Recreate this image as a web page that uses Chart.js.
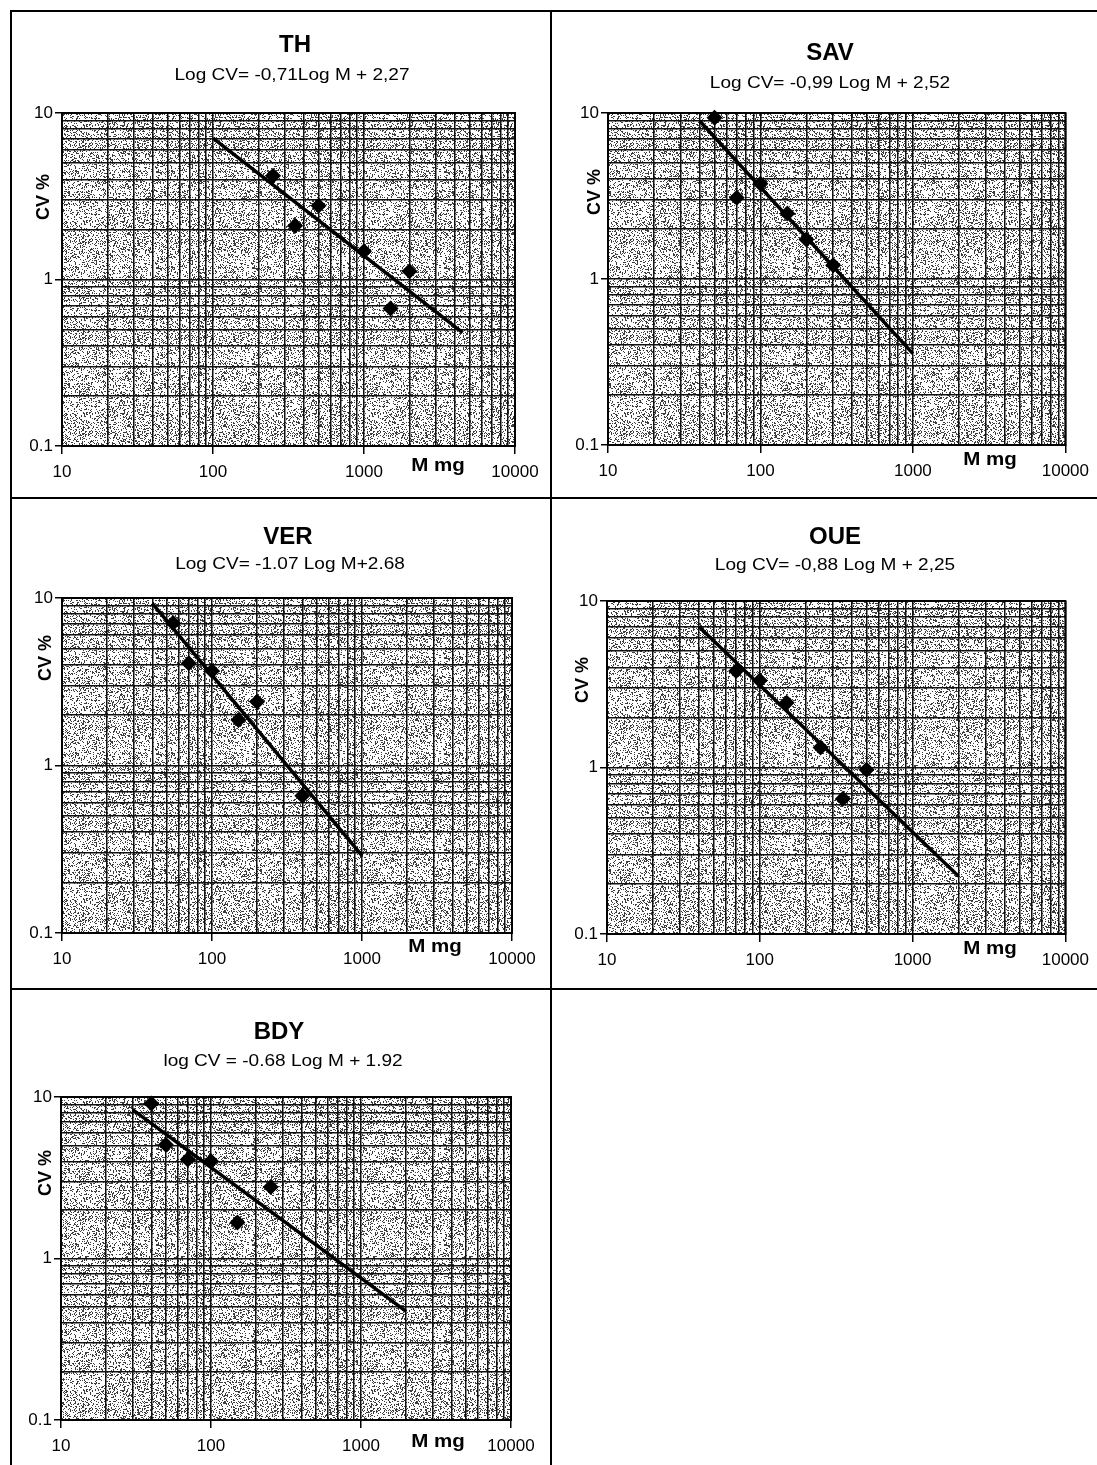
<!DOCTYPE html>
<html>
<head>
<meta charset="utf-8">
<title>Log CV vs Log M</title>
<script src="https://cdn.jsdelivr.net/npm/chart.js@4.4.1/dist/chart.umd.min.js"></script>
<style>
    html, body { margin: 0; padding: 0; background: #fff; }
    body { width: 1097px; height: 1465px; position: relative; overflow: hidden; }
    .rule { position: absolute; background: #000; }
    .cell { position: absolute; }
    .cell canvas { display: block; }
</style>
</head>
<body>
<div class="rule" style="left:10px;top:10px;width:1087px;height:2px"></div>
<div class="rule" style="left:10px;top:10px;width:2px;height:1455px"></div>
<div class="rule" style="left:550px;top:10px;width:2px;height:1455px"></div>
<div class="rule" style="left:10px;top:497px;width:1087px;height:2px"></div>
<div class="rule" style="left:10px;top:988px;width:1087px;height:2px"></div>

<div class="cell" style="left:12px;top:13px;width:538px;height:483px"><canvas id="cTH"></canvas></div>
<div class="cell" style="left:553px;top:13px;width:544px;height:483px"><canvas id="cSAV"></canvas></div>
<div class="cell" style="left:12px;top:499px;width:538px;height:488px"><canvas id="cVER"></canvas></div>
<div class="cell" style="left:553px;top:499px;width:544px;height:488px"><canvas id="cOUE"></canvas></div>
<div class="cell" style="left:12px;top:990px;width:538px;height:475px"><canvas id="cBDY"></canvas></div>

<script>
'use strict';

// ── Axes: log grid lines and labelled decades ────────────────────────────────
var xTicks = [10, 20, 30, 40, 50, 60, 70, 80, 90,
              100, 200, 300, 400, 500, 600, 700, 800, 900,
              1000, 2000, 3000, 4000, 5000, 6000, 7000, 8000, 9000, 10000];
var yTicks = [0.1, 0.2, 0.3, 0.4, 0.5, 0.6, 0.7, 0.8, 0.9,
              1, 2, 3, 4, 5, 6, 7, 8, 9, 10];
var xTickLabels = [10, 100, 1000, 10000];
var yTickLabels = [0.1, 1, 10];

// ── Series (M mg, CV %) ──────────────────────────────────────────────────────
var thMass = [250, 350, 500, 1000, 1500, 2000];
var thCv   = [4.2, 2.1, 2.77, 1.48, 0.67, 1.12];
var thFitMass = [100, 4500];
var thFitCv   = [7.06, 0.48];

var savMass = [50, 70, 100, 150, 200, 300];
var savCv   = [9.37, 3.09, 3.75, 2.48, 1.73, 1.21];
var savFitMass = [40, 1000];
var savFitCv   = [8.95, 0.355];

var verMass = [55, 70, 100, 150, 200, 400];
var verCv   = [7.08, 4.08, 3.67, 1.87, 2.4, 0.66];
var verFitMass = [40, 1000];
var verFitCv   = [9.3, 0.29];

var oueMass = [70, 100, 150, 250, 350, 500];
var oueCv   = [3.8, 3.33, 2.45, 1.32, 0.65, 0.97];
var oueFitMass = [40, 2000];
var oueFitCv   = [7.0, 0.222];

var bdyMass = [40, 50, 70, 100, 150, 250];
var bdyCv   = [9.1, 5.07, 4.1, 4.0, 1.67, 2.77];
var bdyFitMass = [30, 2000];
var bdyFitCv   = [8.35, 0.47];

var FONT = "'Liberation Sans', Arial, sans-serif";

// ── Stippled grey paper texture (deterministic hash, not data) ───────────────
function _hash(x, y) {
    var h = Math.imul(x + 1, 374761393) ^ Math.imul(y + 7, 668265263);
    h = Math.imul(h ^ (h >>> 13), 1274126177);
    return (h ^ (h >>> 16)) >>> 0;
}

function _makeStipple(ctx) {
    var n = 96;
    var tile = document.createElement('canvas');
    tile.width = n; tile.height = n;
    var g = tile.getContext('2d');
    g.fillStyle = '#ffffff';
    g.fillRect(0, 0, n, n);
    g.fillStyle = '#3c3c3c';
    for (var y = 0; y < n; y++) {
        for (var x = 0; x < n; x++) {
            // patchy density: darker and lighter blotches like the scan
            var blot = _hash(x >> 4, y >> 4) % 14;
            if (_hash(x, y) % 100 < 19 + blot) { g.fillRect(x, y, 1, 1); }
        }
    }
    return ctx.createPattern(tile, 'repeat');
}

// ── Plugin: background, frame, titles and axis captions ──────────────────────
var panelPlugin = {
    id: 'panelText',
    beforeDraw: function (chart) {
        var a = chart.chartArea, ctx = chart.ctx;
        if (!chart._stipple) { chart._stipple = _makeStipple(ctx); }
        ctx.save();
        ctx.fillStyle = chart._stipple;
        ctx.fillRect(a.left, a.top, a.right - a.left, a.bottom - a.top);
        ctx.restore();
    },
    beforeDatasetsDraw: function (chart) {
        var a = chart.chartArea, ctx = chart.ctx;
        ctx.save();
        ctx.strokeStyle = '#000';
        ctx.lineWidth = 2;
        ctx.strokeRect(a.left, a.top, a.right - a.left, a.bottom - a.top);
        ctx.restore();
    },
    afterDraw: function (chart, args, opts) {
        var ctx = chart.ctx, p = opts.pos;
        ctx.save();
        ctx.fillStyle = '#000';
        ctx.textAlign = 'center';
        ctx.textBaseline = 'middle';

        ctx.font = 'bold 24px ' + FONT;
        ctx.fillText(opts.title, p.title[0], p.title[1]);

        ctx.save();
        ctx.translate(p.eq[0], p.eq[1]);
        ctx.scale(1.12, 1);
        ctx.font = '17px ' + FONT;
        ctx.fillText(opts.equation, 0, 0);
        ctx.restore();

        ctx.save();
        ctx.translate(p.cv[0], p.cv[1]);
        ctx.rotate(-Math.PI / 2);
        ctx.font = 'bold 18px ' + FONT;
        ctx.fillText('CV %', 0, 0);
        ctx.restore();

        ctx.save();
        ctx.translate(p.mmg[0], p.mmg[1]);
        ctx.scale(1.14, 1);
        ctx.font = 'bold 18px ' + FONT;
        ctx.fillText('M mg', 0, 0);
        ctx.restore();

        ctx.restore();
    }
};

function _pairs(xs, ys) {
    return xs.map(function (x, i) { return { x: x, y: ys[i] }; });
}

function _isLabelled(list, v) {
    return list.some(function (t) { return Math.abs(t - v) < 1e-9 * Math.max(1, t); });
}

/**
 * renderPanel — one log-log scatter with its regression line
 * box: chart area (l, t, r, b) in canvas pixels; pos: text anchors
 */
function renderPanel(canvasId, title, equation, mass, cv, fitMass, fitCv, box, pos) {
    var canvas = document.getElementById(canvasId);
    if (!canvas) { return; }
    var w = canvas.parentNode.clientWidth, h = canvas.parentNode.clientHeight;

    new Chart(canvas.getContext('2d'), {
        type: 'scatter',
        data: {
            datasets: [
                {
                    label: title,
                    data: _pairs(mass, cv),
                    pointStyle: 'rectRot',
                    pointRadius: 8,
                    pointHoverRadius: 8,
                    backgroundColor: '#000',
                    borderColor: '#000',
                    borderWidth: 0,
                    clip: false,
                    order: 0
                },
                {
                    label: equation,
                    data: _pairs(fitMass, fitCv),
                    showLine: true,
                    borderColor: '#000',
                    borderWidth: 3.5,
                    pointRadius: 0,
                    pointHoverRadius: 0,
                    order: 1
                }
            ]
        },
        options: {
            responsive: true,
            maintainAspectRatio: false,
            animation: false,
            events: [],
            layout: { padding: { left: 0, top: box.t, right: w - box.r, bottom: 0 } },
            plugins: {
                legend: { display: false },
                tooltip: { enabled: false },
                panelText: { title: title, equation: equation, pos: pos }
            },
            scales: {
                x: {
                    type: 'logarithmic',
                    min: 10,
                    max: 10000,
                    afterBuildTicks: function (s) {
                        s.ticks = xTicks.map(function (v) { return { value: v }; });
                    },
                    afterFit: function (s) { s.height = h - box.b; },
                    border: { display: true, color: '#000', width: 2 },
                    grid: {
                        color: '#111',
                        lineWidth: 1.5,
                        tickLength: 8,
                        tickWidth: 1.5,
                        tickColor: function (c) {
                            return c.tick && _isLabelled(xTickLabels, c.tick.value) ? '#000' : 'rgba(0,0,0,0)';
                        }
                    },
                    ticks: {
                        autoSkip: false,
                        maxRotation: 0,
                        minRotation: 0,
                        padding: 8,
                        color: '#000',
                        font: { family: FONT, size: 17 },
                        callback: function (v) { return _isLabelled(xTickLabels, v) ? String(v) : ''; }
                    }
                },
                y: {
                    type: 'logarithmic',
                    min: 0.1,
                    max: 10,
                    afterBuildTicks: function (s) {
                        s.ticks = yTicks.map(function (v) { return { value: v }; });
                    },
                    afterFit: function (s) { s.width = box.l; },
                    border: { display: true, color: '#000', width: 2 },
                    grid: {
                        color: '#111',
                        lineWidth: 1.5,
                        tickLength: 7,
                        tickWidth: 1.5,
                        tickColor: function (c) {
                            return c.tick && _isLabelled(yTickLabels, c.tick.value) ? '#000' : 'rgba(0,0,0,0)';
                        }
                    },
                    ticks: {
                        autoSkip: false,
                        padding: 2,
                        color: '#000',
                        font: { family: FONT, size: 17 },
                        callback: function (v) { return _isLabelled(yTickLabels, v) ? String(v) : ''; }
                    }
                }
            }
        },
        plugins: [panelPlugin]
    });
}

renderPanel('cTH', 'TH', 'Log CV= -0,71Log M + 2,27',
    thMass, thCv, thFitMass, thFitCv,
    { l: 50, t: 100, r: 503, b: 433 },
    { title: [283, 32], eq: [280, 62], cv: [32, 184], mmg: [426, 453] });

renderPanel('cSAV', 'SAV', 'Log CV= -0,99 Log M + 2,52',
    savMass, savCv, savFitMass, savFitCv,
    { l: 55, t: 100, r: 514, b: 432 },
    { title: [277, 40], eq: [277, 70], cv: [42, 179], mmg: [437, 447] });

renderPanel('cVER', 'VER', 'Log CV= -1.07 Log M+2.68',
    verMass, verCv, verFitMass, verFitCv,
    { l: 50, t: 99, r: 500, b: 434 },
    { title: [276, 38], eq: [278, 65], cv: [34, 159], mmg: [423, 448] });

renderPanel('cOUE', 'OUE', 'Log CV= -0,88 Log M + 2,25',
    oueMass, oueCv, oueFitMass, oueFitCv,
    { l: 54, t: 102, r: 514, b: 435 },
    { title: [282, 38], eq: [282, 66], cv: [30, 181], mmg: [437, 450] });

renderPanel('cBDY', 'BDY', 'log CV = -0.68 Log M + 1.92',
    bdyMass, bdyCv, bdyFitMass, bdyFitCv,
    { l: 49, t: 107, r: 499, b: 430 },
    { title: [267, 42], eq: [271, 71], cv: [34, 183], mmg: [426, 452] });
</script>
</body>
</html>
